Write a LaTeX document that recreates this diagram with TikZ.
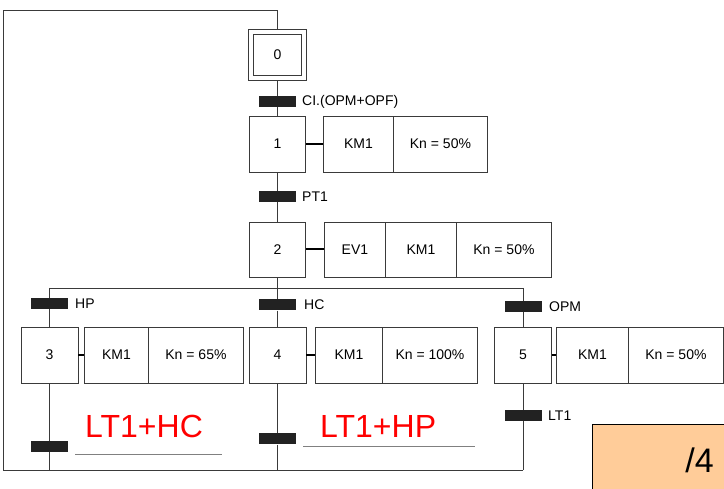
\documentclass[tikz,border=0pt]{standalone}
\usepackage{fontspec}
\setmainfont{Liberation Sans}
\definecolor{lc}{HTML}{3A3A3A}
\definecolor{barc}{HTML}{222222}
\definecolor{peach}{HTML}{FFCC99}
\begin{document}
\begin{tikzpicture}[x=1pt,y=-1pt,
  font=\fontsize{14}{16}\selectfont,
  ln/.style={draw=lc, line width=0.9pt},
  stepbox/.style={draw=lc, line width=0.9pt, minimum width=56pt, minimum height=56pt, inner sep=0pt},
  actbox/.style={draw=lc, line width=0.9pt, minimum height=56pt, inner sep=0pt, anchor=west},
  bar/.style={fill=barc, minimum width=37pt, minimum height=11pt, inner sep=0pt},
  lab/.style={anchor=west, inner sep=0pt},
  link/.style={draw=black, line width=2pt},
  blank/.style={draw=gray, line width=0.7pt},
  redtxt/.style={text=red, font=\fontsize{32}{36}\selectfont, inner sep=0pt, anchor=base west}]
\useasboundingbox (0,0) rectangle (724,489);

% step 0 (initial)
\node[stepbox, minimum width=58pt, minimum height=51pt] (s0) at (277.5,54.5) {};
\node[stepbox, minimum width=48pt, minimum height=41pt] (s0i) at (277.5,54.5) {0};
% transition 0 -> 1
\node[bar] (t0) at (277.5,101.5) {};
\node[lab] (t0l) at (302,102) {CI.(OPM+OPF)};
% step 1
\node[stepbox] (s1) at (277.5,144) {1};
\node[actbox, minimum width=70pt] (a1a) at (323,144) {KM1};
\node[actbox, minimum width=94pt] (a1b) at (393,144) {Kn = 50\%};
% transition 1 -> 2
\node[bar] (t1) at (277.5,196.5) {};
\node[lab] (t1l) at (302,197) {PT1};
% step 2
\node[stepbox, minimum height=55pt] (s2) at (277.5,249.5) {2};
\node[actbox, minimum width=61pt, minimum height=55pt] (a2a) at (324,249.5) {EV1};
\node[actbox, minimum width=71pt, minimum height=55pt] (a2b) at (385,249.5) {KM1};
\node[actbox, minimum width=95pt, minimum height=55pt] (a2c) at (456,249.5) {Kn = 50\%};
% divergence
\coordinate (dv) at (277.5,288);
\coordinate (dl) at (49.5,288);
\coordinate (dr) at (523,288);
% branch 3
\node[bar] (t3a) at (49.5,303.5) {};
\node[lab] (t3al) at (75,304) {HP};
\node[stepbox, minimum width=57pt] (s3) at (49.5,355) {3};
\node[actbox, minimum width=64pt] (a3a) at (84,355) {KM1};
\node[actbox, minimum width=95pt] (a3b) at (148,355) {Kn = 65\%};
\node[bar] (t3b) at (49.5,446.5) {};
% branch 4
\node[bar] (t4a) at (277.5,305) {};
\node[lab] (t4al) at (304,305) {HC};
\node[stepbox, minimum width=57pt] (s4) at (277.5,355) {4};
\node[actbox, minimum width=67pt] (a4a) at (315,355) {KM1};
\node[actbox, minimum width=95pt] (a4b) at (382,355) {Kn = 100\%};
\node[bar] (t4b) at (277.5,439) {};
% branch 5
\node[bar] (t5a) at (523,306.5) {};
\node[lab] (t5al) at (549,306.5) {OPM};
\node[stepbox, minimum width=57pt] (s5) at (523,355) {5};
\node[actbox, minimum width=72pt] (a5a) at (556,355) {KM1};
\node[actbox, minimum width=95pt] (a5b) at (628,355) {Kn = 50\%};
\node[bar] (t5b) at (523,415.5) {};
\node[lab] (t5bl) at (548,416) {LT1};
% loop-back coordinates
\coordinate (b3) at (49.5,470);
\coordinate (b4) at (277.5,470);
\coordinate (b5) at (523,470);
\coordinate (bl) at (3,470);
\coordinate (tl) at (3,10);
\coordinate (tm) at (277.5,10);

% main line
\draw[ln] (s0.south) -- (t0) -- (s1.north);
\draw[ln] (s1.south) -- (t1) -- (s2.north);
\draw[ln] (s2.south) -- (dv);
\draw[ln] (dl) -- (dr);
\draw[ln] (dl) -- (t3a) -- (s3.north);
\draw[ln] (s3.south) -- (t3b) -- (b3);
\draw[ln] (dv) -- (t4a) -- (s4.north);
\draw[ln] (s4.south) -- (t4b) -- (b4);
\draw[ln] (dr) -- (t5a) -- (s5.north);
\draw[ln] (s5.south) -- (t5b) -- (b5);
\draw[ln] (b5) -- (bl) -- (tl) -- (tm) -- (s0.north);
% redraw bars on top
\node[bar] at (t0) {};
\node[bar] at (t1) {};
\node[bar] at (t3a) {};
\node[bar] at (t3b) {};
\node[bar] at (t4a) {};
\node[bar] at (t4b) {};
\node[bar] at (t5a) {};
\node[bar] at (t5b) {};
% action links
\draw[link] (s1.east) -- (a1a.west);
\draw[link] (s2.east) -- (a2a.west);
\draw[link] (s3.east) -- (a3a.west);
\draw[link] (s4.east) -- (a4a.west);
\draw[link] (s5.east) -- (a5a.west);

% handwritten-style answers
\node[redtxt] (r1) at (85,438) {LT1+HC};
\node[redtxt] (r2) at (320,438) {LT1+HP};
\draw[blank] (75,454) -- (222,454);
\draw[blank] (303,446) -- (475,446);

% score box
\fill[peach] (592,425) rectangle (726,491);
\draw[black, line width=1pt] (592,491) -- (592,425) -- (726,425);
\node[font=\fontsize{34}{40}\selectfont, anchor=base east, inner sep=0pt] (score) at (714,472) {/4};
\end{tikzpicture}
\end{document}
